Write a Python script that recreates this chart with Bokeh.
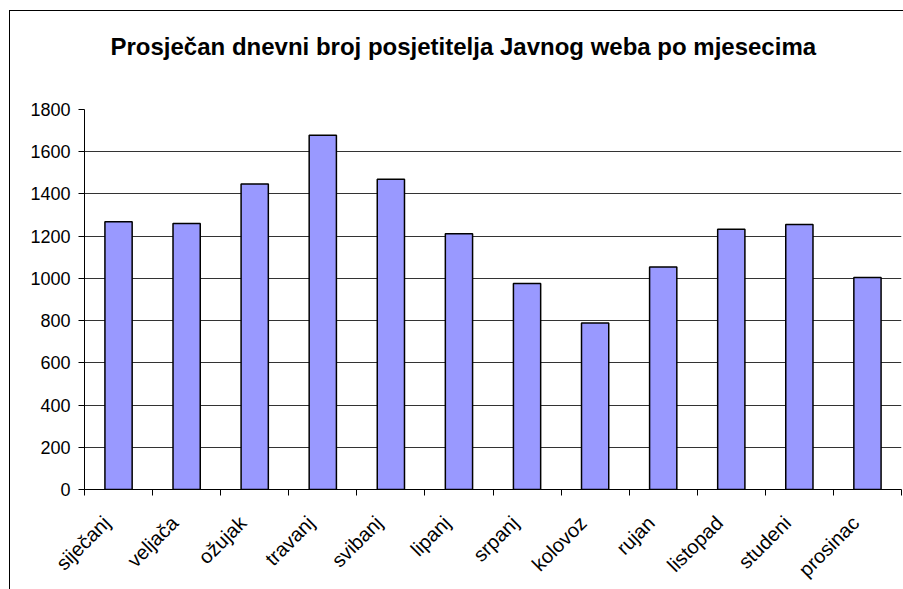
import math
from bokeh.plotting import figure
from bokeh.models import Range1d, FixedTicker, Title
from bokeh.embed import file_html
from bokeh.resources import INLINE

title_text = "Prosječan dnevni broj posjetitelja Javnog weba po mjesecima"
months = ["siječanj", "veljača", "ožujak", "travanj", "svibanj", "lipanj",
          "srpanj", "kolovoz", "rujan", "listopad", "studeni", "prosinac"]
visitors = [1268, 1260, 1447, 1678, 1470, 1211, 976, 789, 1054, 1233, 1255, 1004]
y_ticks = [0, 200, 400, 600, 800, 1000, 1200, 1400, 1600, 1800]

FONT = "Liberation Sans"

x_pos = [i + 0.5 for i in range(len(months))]
boundaries = list(range(len(months) + 1))
# label anchor slightly left of the category centre (Excel-style rotated labels)
label_pos = [x - 0.175 for x in x_pos]

p = figure(
    output_backend="svg", toolbar_location=None,
    frame_width=817, frame_height=380,
    min_border_left=74, min_border_right=2, min_border_top=98, min_border_bottom=97,
    x_range=Range1d(0, len(months)), y_range=Range1d(0, 1800),
    background_fill_color="white", border_fill_color="white",
)
p.outline_line_color = None
p.styles = {"border-left": "1px solid black", "border-top": "1px solid black",
            "margin-left": "9px", "margin-top": "10px"}

# second (blank) line only reserves vertical space between title and plot area
t = Title(text=title_text + "\n ", align="left", offset=26, standoff=42,
          vertical_align="top",
          text_font=FONT, text_font_size="24px", text_font_style="bold",
          text_color="black")
p.add_layout(t, "above")

p.vbar(x=x_pos, top=visitors, width=0.4, bottom=0,
       fill_color="#9999FF", line_color="black", line_width=1.5)

# grid
p.xgrid.visible = False
p.ygrid.ticker = FixedTicker(ticks=y_ticks)
p.ygrid.grid_line_color = "#333333"
p.ygrid.grid_line_width = 1

# y axis
p.yaxis.ticker = FixedTicker(ticks=y_ticks)
p.yaxis.axis_line_color = "black"
p.yaxis.major_tick_line_color = "black"
p.yaxis.major_tick_out = 6
p.yaxis.major_tick_in = 0
p.yaxis.minor_tick_line_color = None
p.yaxis.major_label_standoff = 8
p.yaxis.major_label_text_font = FONT
p.yaxis.major_label_text_font_size = "18px"
p.yaxis.major_label_text_color = "black"

# x axis
p.xaxis.ticker = FixedTicker(ticks=label_pos, minor_ticks=boundaries)
p.xaxis.major_label_overrides = {x: m for x, m in zip(label_pos, months)}
p.xaxis.major_tick_out = 0
p.xaxis.major_tick_in = 0
p.xaxis.minor_tick_out = 6
p.xaxis.minor_tick_in = 0
p.xaxis.minor_tick_line_color = "black"
p.xaxis.axis_line_color = "black"
p.xaxis.major_label_orientation = math.pi / 4
p.xaxis.major_label_standoff = 24
p.xaxis.major_label_text_font = FONT
p.xaxis.major_label_text_font_size = "20px"
p.xaxis.major_label_text_color = "black"

open("out.html", "w").write(file_html(p, INLINE))
